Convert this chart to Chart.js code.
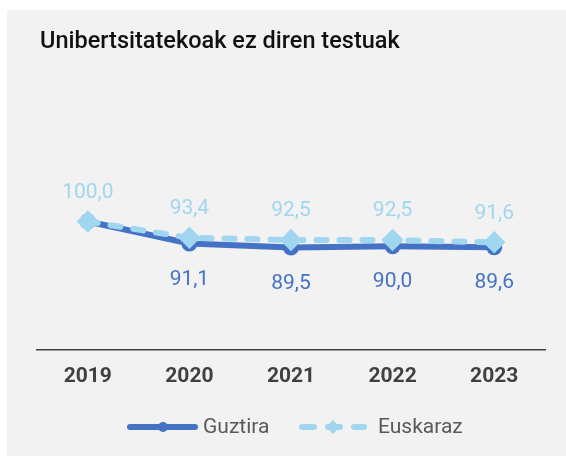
<!DOCTYPE html>
<html>
<head>
<meta charset="utf-8">
<script src="https://cdn.jsdelivr.net/npm/chart.js@4"></script>
<style>
  body { margin: 0; background: #fff; }
  #panel { position: absolute; left: 7px; top: 10px; width: 559px; height: 446px; background: #f2f2f2; }
</style>
</head>
<body>
<div id="panel"><canvas id="chart"></canvas></div>
<script>
const years = ['2019', '2020', '2021', '2022', '2023'];
const guztira = [100.0, 91.1, 89.5, 90.0, 89.6];
const euskaraz = [100.0, 93.4, 92.5, 92.5, 91.6];
const chartTitle = 'Unibertsitatekoak ez diren testuak';

const darkBlue = '#4472c4';
const lightBlue = '#a0d6ef';

function fmt(v) {
    return v.toFixed(1).replace('.', ',');
}

// title, value labels and legend drawn on the canvas
const extras = {
    id: 'extras',
    afterDraw(chart) {
        const ctx = chart.ctx;
        ctx.save();
        ctx.fillStyle = '#111';
        ctx.font = '500 23.5px Roboto';
        ctx.textAlign = 'left';
        ctx.textBaseline = 'middle';
        ctx.fillText(chartTitle, 33, 32);

        ctx.font = '21px Roboto';
        ctx.textAlign = 'center';
        chart.getDatasetMeta(1).data.forEach((p, i) => {
            ctx.fillStyle = lightBlue;
            ctx.fillText(fmt(euskaraz[i]), p.x, p.y - 29);
        });
        chart.getDatasetMeta(0).data.forEach((p, i) => {
            if (i === 0) return;
            ctx.fillStyle = darkBlue;
            ctx.fillText(fmt(guztira[i]), p.x, p.y + 36);
        });

        // legend
        const ly = 417;
        ctx.lineCap = 'round';
        ctx.lineWidth = 6;
        ctx.strokeStyle = darkBlue;
        ctx.beginPath(); ctx.moveTo(123, ly); ctx.lineTo(188, ly); ctx.stroke();
        ctx.fillStyle = darkBlue;
        ctx.beginPath(); ctx.arc(156, ly, 5, 0, Math.PI * 2); ctx.fill();
        ctx.fillStyle = '#595959';
        ctx.textAlign = 'left';
        ctx.fillText('Guztira', 196, ly + 1);

        ctx.strokeStyle = lightBlue;
        ctx.setLineDash([12, 14]);
        ctx.beginPath(); ctx.moveTo(295, ly); ctx.lineTo(357, ly); ctx.stroke();
        ctx.setLineDash([]);
        ctx.fillStyle = lightBlue;
        ctx.beginPath();
        ctx.moveTo(326, ly - 7); ctx.lineTo(333, ly); ctx.lineTo(326, ly + 7); ctx.lineTo(319, ly);
        ctx.closePath(); ctx.fill();
        ctx.fillStyle = '#595959';
        ctx.fillText('Euskaraz', 371, ly + 1);
        ctx.restore();
    }
};

new Chart(document.getElementById('chart'), {
    type: 'line',
    data: {
        labels: years,
        datasets: [{
            label: 'Guztira',
            data: guztira,
            borderColor: darkBlue,
            backgroundColor: darkBlue,
            borderWidth: 6,
            pointRadius: 5,
            pointStyle: 'circle',
            order: 1
        }, {
            label: 'Euskaraz',
            data: euskaraz,
            borderColor: lightBlue,
            backgroundColor: lightBlue,
            borderWidth: 6,
            borderDash: [10, 13],
            borderCapStyle: 'round',
            pointRadius: 7,
            pointStyle: 'rectRot',
            order: 0
        }]
    },
    options: {
        responsive: true,
        maintainAspectRatio: false,
        animation: false,
        events: [],
        layout: { padding: { left: 30, right: 21, top: 88, bottom: 66 } },
        scales: {
            x: {
                offset: true,
                grid: { display: false, drawTicks: false },
                border: { display: true, color: '#404040', width: 1.5 },
                ticks: { color: '#404040', font: { family: 'Roboto', size: 21, weight: 'bold' }, padding: 14 },
                afterFit: (scale) => { scale.height = 40; }
            },
            y: {
                display: false,
                min: 48,
                max: 150
            }
        },
        plugins: {
            legend: { display: false },
            tooltip: { enabled: false }
        }
    },
    plugins: [extras]
});
</script>
</body>
</html>
